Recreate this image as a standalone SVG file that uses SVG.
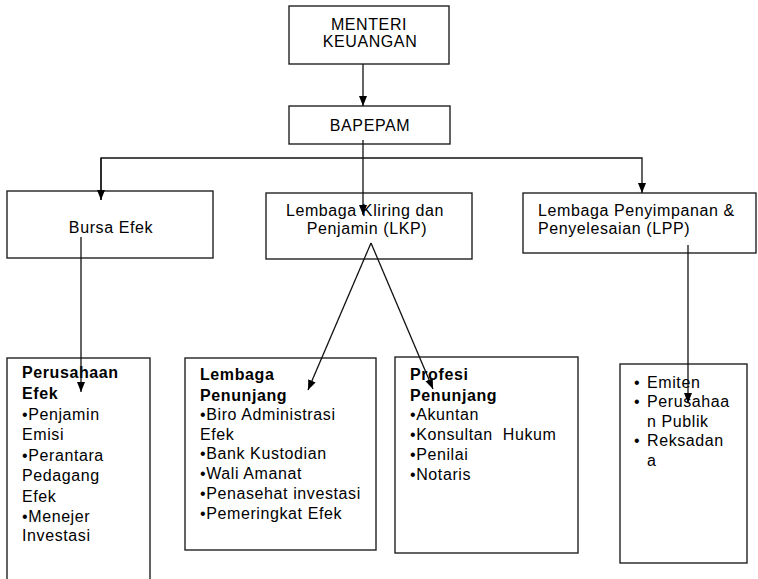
<svg xmlns="http://www.w3.org/2000/svg" width="758" height="579" viewBox="0 0 758 579">
<defs>
<marker id="ah" markerUnits="userSpaceOnUse" markerWidth="10" markerHeight="10" viewBox="0 0 10 10" refX="10" refY="5" orient="auto">
<path d="M0,1 L10,5 L0,9 Z" fill="#000"/>
</marker>
<style>
rect{fill:#fff;stroke:#222;stroke-width:1.4}
text{font-family:"Liberation Sans",Arial,sans-serif;font-size:16px;letter-spacing:0.6px;fill:#000}
.c{text-anchor:middle}
.b{font-weight:bold}
.ln{fill:none;stroke:#111;stroke-width:1.3}
</style>
</defs>
<rect x="0" y="0" width="758" height="579" style="fill:#fff;stroke:none"/>
<g id="menteri"><rect x="289" y="6" width="160" height="58"/><text class="c" x="369" y="30">MENTERI</text><text class="c" x="370" y="47">KEUANGAN</text></g>
<g id="bapepam"><rect x="289" y="106" width="161" height="38"/><text class="c" x="370" y="131">BAPEPAM</text></g>
<g id="bursa"><rect x="7" y="191" width="206" height="67"/><text class="c" x="111" y="233">Bursa Efek</text></g>
<g id="lkp"><rect x="266" y="193" width="206" height="66"/><text class="c" x="365" y="216">Lembaga Kliring dan</text><text class="c" x="367" y="234">Penjamin (LKP)</text></g>
<g id="lpp"><rect x="523" y="193" width="233" height="60"/><text x="538" y="216">Lembaga Penyimpanan &amp;</text><text x="538" y="234">Penyelesaian (LPP)</text></g>
<g id="perusahaan"><rect x="7" y="358" width="143" height="240"/>
<text x="22" y="378" class="b">Perusahaan</text><text x="22" y="399" class="b">Efek</text>
<text x="22" y="420">•Penjamin</text><text x="22" y="440">Emisi</text><text x="22" y="461">•Perantara</text><text x="22" y="481">Pedagang</text><text x="22" y="502">Efek</text><text x="22" y="522">•Menejer</text><text x="22" y="541">Investasi</text></g>
<g id="lembaga"><rect x="185" y="358" width="191" height="192"/>
<text x="200" y="380" class="b">Lembaga</text><text x="200" y="401" class="b">Penunjang</text>
<text x="200" y="420">•Biro Administrasi</text><text x="200" y="440">Efek</text><text x="200" y="459">•Bank Kustodian</text><text x="200" y="479">•Wali Amanat</text><text x="200" y="499">•Penasehat investasi</text><text x="200" y="519">•Pemeringkat Efek</text></g>
<g id="profesi"><rect x="395" y="357" width="183" height="196"/>
<text x="410" y="380" class="b">Profesi</text><text x="410" y="401" class="b">Penunjang</text>
<text x="410" y="420">•Akuntan</text><text x="410" y="440" xml:space="preserve">•Konsultan  Hukum</text><text x="410" y="460">•Penilai</text><text x="410" y="480">•Notaris</text></g>
<g id="emiten"><rect x="620" y="364" width="127" height="199"/>
<text x="634" y="388">•</text><text x="647" y="388">Emiten</text>
<text x="634" y="407">•</text><text x="647" y="407">Perusahaa</text><text x="647" y="427">n Publik</text>
<text x="634" y="446">•</text><text x="647" y="446">Reksadan</text><text x="647" y="466">a</text></g>
<g id="connectors">
<line class="ln" x1="363" y1="64" x2="363" y2="106" marker-end="url(#ah)"/>
<line class="ln" x1="363" y1="140" x2="363" y2="215" marker-end="url(#ah)"/>
<polyline class="ln" points="101,200 101,158 642,158 642,193" marker-end="url(#ah)"/>
<line class="ln" x1="101" y1="158" x2="101" y2="200" marker-end="url(#ah)"/>
<line class="ln" x1="81" y1="237" x2="81" y2="392" marker-end="url(#ah)"/>
<line class="ln" x1="371" y1="243" x2="308" y2="390" marker-end="url(#ah)"/>
<line class="ln" x1="371" y1="243" x2="433" y2="389" marker-end="url(#ah)"/>
<line class="ln" x1="688" y1="245" x2="688" y2="403" marker-end="url(#ah)"/>
</g>
</svg>
